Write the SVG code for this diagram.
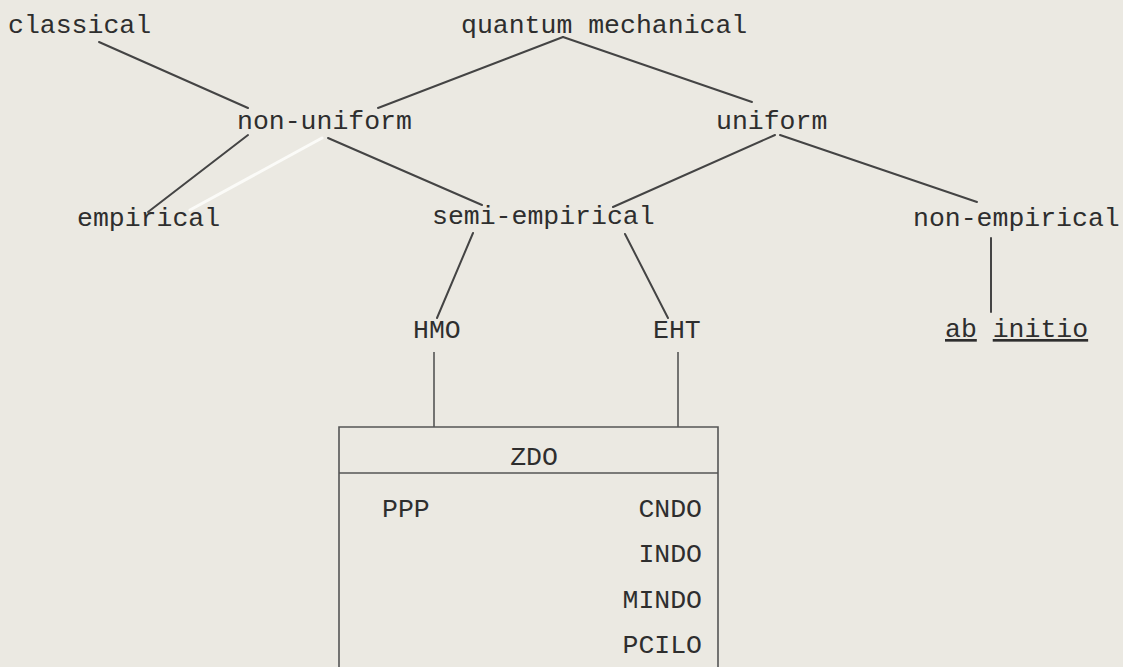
<svg xmlns="http://www.w3.org/2000/svg" width="1123" height="667" viewBox="0 0 1123 667">
<style>
.t{font-family:"Liberation Mono","Courier New",monospace;font-size:26.5px;fill:#2e2e2e}
.c{stroke:#444;stroke-width:2;fill:none;stroke-linecap:round}
.b{stroke:#555;stroke-width:1.6;fill:none}
</style>
<rect x="0" y="0" width="1123" height="667" fill="#ebe9e2"/>
<g id="connectors">
<line class="c" x1="99" y1="42" x2="248" y2="108"/>
<line class="c" x1="563" y1="37" x2="378" y2="108"/>
<line class="c" x1="563" y1="37" x2="752" y2="102"/>
<line class="c" x1="248" y1="135" x2="148" y2="212"/>
<line x1="322" y1="138" x2="190" y2="210" stroke="#fbfbf8" stroke-width="3" stroke-linecap="round"/>
<line class="c" x1="328" y1="138" x2="482" y2="205"/>
<line class="c" x1="775" y1="135" x2="613" y2="207"/>
<line class="c" x1="780" y1="135" x2="977" y2="202"/>
<line class="c" x1="473" y1="233" x2="437" y2="318"/>
<line class="c" x1="625" y1="234" x2="668" y2="318"/>
<line class="b" x1="434" y1="352" x2="434" y2="427"/>
<line class="b" x1="678" y1="352" x2="678" y2="427"/>
<line class="c" x1="991" y1="238" x2="991" y2="312"/>
</g>
<g id="classical"><text class="t" x="8" y="33">classical</text></g>
<g id="quantum-mechanical"><text class="t" x="461" y="33">quantum mechanical</text></g>
<g id="non-uniform"><text class="t" x="237" y="129">non-uniform</text></g>
<g id="uniform"><text class="t" x="716" y="129">uniform</text></g>
<g id="empirical"><text class="t" x="77" y="226">empirical</text></g>
<g id="semi-empirical"><text class="t" x="432" y="224">semi-empirical</text></g>
<g id="non-empirical"><text class="t" x="913" y="226">non-empirical</text></g>
<g id="ab-initio">
<text class="t" x="945" y="337"><tspan text-decoration="underline">ab</tspan> <tspan text-decoration="underline">initio</tspan></text>
</g>
<g id="HMO"><text class="t" x="413" y="338">HMO</text></g>
<g id="EHT"><text class="t" x="653" y="338">EHT</text></g>
<g id="ZDO-box">
<path class="b" d="M339,680 V427 H718 V680"/>
<line class="b" x1="339" y1="473" x2="718" y2="473"/>
<text class="t" x="534" y="465" text-anchor="middle">ZDO</text>
<text class="t" x="382" y="517">PPP</text>
<text class="t" x="702" y="517" text-anchor="end">CNDO</text>
<text class="t" x="702" y="562" text-anchor="end">INDO</text>
<text class="t" x="702" y="608" text-anchor="end">MINDO</text>
<text class="t" x="702" y="653" text-anchor="end">PCILO</text>
</g>
</svg>
